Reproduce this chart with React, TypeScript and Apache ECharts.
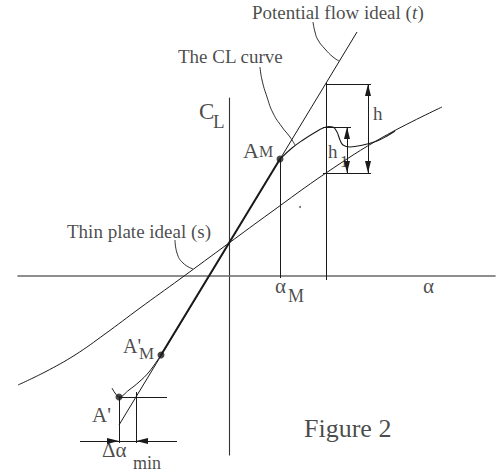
import React, { useEffect, useRef } from "react";
import * as echarts from "echarts";

const FONT = '"Liberation Serif", "Times New Roman", serif';
const INK = "#1a1a1a";

// Angle of attack (alpha, deg) vs lift coefficient (CL)
const potentialFlowLine = [[-5.5, -1.49], [6.4, 2.44]];
const thinPlateCurve = [
  [-10.55, -1.09], [-9.2, -0.96], [-7.7, -0.79], [-6.2, -0.58], [-4.45, -0.32],
  [-2.45, -0.03], [0, 0.33], [2.05, 0.63], [4.85, 1.03], [7.7, 1.39], [10.65, 1.69],
];
const clNegativeBranch = [
  [-5.85, -1.12], [-5.7, -1.17], [-5.5, -1.21], [-5.0, -1.14], [-4.5, -1.06],
  [-4.0, -0.96], [-3.4, -0.79],
];
const clLinearRange = [[-3.4, -0.79], [2.55, 1.17]];
const clStallBranch = [
  [2.55, 1.17], [3.15, 1.28], [3.7, 1.36], [4.25, 1.43], [4.7, 1.48], [5.0, 1.495],
  [5.2, 1.49], [5.4, 1.44], [5.55, 1.36], [5.7, 1.31], [6.05, 1.29], [6.7, 1.31],
  [7.4, 1.35], [7.9, 1.4], [8.3, 1.45],
];
const keyPoints = [[2.55, 1.17], [-3.4, -0.79], [-5.5, -1.21]];
const strayDot = [[3.55, 0.69]];

// Callout leaders
const potentialLeader = [[4.2, 2.54], [4.3, 2.44], [4.45, 2.36], [4.8, 2.27], [5.2, 2.19], [5.5, 2.15]];
const clLeader = [[1.55, 2.09], [1.65, 1.96], [1.9, 1.79], [2.2, 1.63], [2.65, 1.49], [3.05, 1.39], [3.3, 1.31]];
const thinPlateLeader = [[-2.7, 0.36], [-2.6, 0.23], [-2.3, 0.13], [-1.8, 0.07]];

// Guide and dimension segments
const guideSegments = [
  [[2.55, 1.17], [2.55, -0.02]],
  [[4.85, 1.93], [4.85, -0.04]],
  [[4.85, 1.92], [7.1, 1.92]],
  [[4.7, 1.03], [7.1, 1.03]],
  [[4.7, 1.49], [6.1, 1.49]],
  [[6.95, 1.92], [6.95, 1.03]],
  [[5.9, 1.49], [5.9, 1.03]],
  [[-5.5, -1.21], [-3.1, -1.21]],
  [[-5.5, -1.21], [-5.5, -1.67]],
  [[-4.65, -1.16], [-4.65, -1.67]],
  [[-7.45, -1.65], [-2.6, -1.65]],
];
// arrow tips: alpha, CL, direction (0 up, 1 down, 2 left, 3 right)
const arrowTips = [
  [6.95, 1.92, 0], [6.95, 1.03, 1],
  [5.9, 1.49, 0], [5.9, 1.03, 1],
  [-5.5, -1.65, 3], [-4.65, -1.65, 2],
];

// text, alpha, CL, font size, italic
const textLabels: [string, number, number, number, boolean?][] = [
  ["Potential flow ideal (", 1.15, 2.633, 19],
  ["t", 9.15, 2.633, 19, true],
  [")", 9.43, 2.633, 19],
  ["The CL curve", -2.55, 2.193, 19],
  ["Thin plate ideal (s)", -8.1, 0.443, 19],
  ["C", -1.5, 1.646, 23],
  ["L", -0.8, 1.543, 19],
  ["A", 0.7, 1.26, 22],
  ["M", 1.5, 1.243, 16],
  ["α", 2.3, -0.099, 21],
  ["M", 2.95, -0.199, 18],
  ["α", 9.7, -0.099, 21],
  ["A'", -5.3, -0.702, 20],
  ["M", -4.5, -0.772, 17],
  ["A'", -6.85, -1.389, 21],
  ["Δα", -6.35, -1.739, 21],
  ["min", -4.8, -1.869, 18],
  ["h", 7.2, 1.625, 19],
  ["h", 4.95, 1.245, 19],
  ["1", 5.55, 1.148, 17],
  ["Figure 2", 3.75, -1.522, 26],
];

const curve = (data: number[][], width = 1, smooth: number | boolean = 0.4) => ({
  type: "line",
  data,
  smooth,
  symbol: "none",
  clip: false,
  silent: true,
  lineStyle: { color: INK, width },
  z: 3,
});

export default function App() {
  const ref = useRef<HTMLDivElement>(null);

  useEffect(() => {
    const chart = echarts.init(ref.current!, null, { renderer: "svg" });
    chart.setOption({
      animation: false,
      backgroundColor: "#ffffff",
      grid: { left: 18, right: 6, top: 98, bottom: 21 },
      xAxis: {
        type: "value",
        min: -10.55,
        max: 13.3,
        axisLine: { show: true, onZero: true, lineStyle: { color: "#6a6a6a", width: 1.6 } },
        axisTick: { show: false },
        axisLabel: { show: false },
        splitLine: { show: false },
      },
      yAxis: {
        type: "value",
        min: -1.79,
        max: 1.78,
        axisLine: { show: true, onZero: true, lineStyle: { color: "#333333", width: 1.1 } },
        axisTick: { show: false },
        axisLabel: { show: false },
        splitLine: { show: false },
      },
      series: [
        curve(potentialFlowLine, 1, false),
        curve(thinPlateCurve, 1, 0.4),
        curve(clNegativeBranch, 1, 0.4),
        curve(clLinearRange, 2, false),
        curve(clStallBranch, 1.1, 0.4),
        curve(potentialLeader, 0.9, 0.5),
        curve(clLeader, 0.9, 0.5),
        curve(thinPlateLeader, 0.9, 0.5),
        {
          type: "lines",
          coordinateSystem: "cartesian2d",
          clip: false,
          silent: true,
          data: guideSegments.map((coords) => ({ coords })),
          lineStyle: { color: INK, width: 1, opacity: 1 },
          z: 2,
        },
        {
          type: "custom",
          coordinateSystem: "cartesian2d",
          clip: false,
          silent: true,
          data: arrowTips,
          renderItem: (_params: any, api: any) => {
            const p = api.coord([api.value(0), api.value(1)]);
            const dir = api.value(2);
            const L = 12;
            const W = 3;
            const [x, y] = p;
            let pts: number[][];
            if (dir === 0) pts = [[x, y], [x - W, y + L], [x + W, y + L]];
            else if (dir === 1) pts = [[x, y], [x - W, y - L], [x + W, y - L]];
            else if (dir === 2) pts = [[x, y], [x + L, y - W], [x + L, y + W]];
            else pts = [[x, y], [x - L, y - W], [x - L, y + W]];
            return { type: "polygon", shape: { points: pts }, style: { fill: INK } };
          },
          z: 4,
        },
        {
          type: "scatter",
          data: keyPoints,
          symbol: "circle",
          symbolSize: 7,
          clip: false,
          silent: true,
          itemStyle: { color: INK },
          z: 5,
        },
        {
          type: "scatter",
          data: strayDot,
          symbol: "circle",
          symbolSize: 2,
          clip: false,
          silent: true,
          itemStyle: { color: "#444" },
          z: 5,
        },
        {
          type: "scatter",
          symbolSize: 0,
          clip: false,
          silent: true,
          data: textLabels.map(([text, a, c, size, italic]) => ({
            value: [a, c],
            label: {
              formatter: text,
              fontSize: size,
              fontStyle: italic ? "italic" : "normal",
            },
          })),
          label: {
            show: true,
            position: [0, 0],
            align: "left",
            verticalAlign: "middle",
            color: INK,
            fontFamily: FONT,
          },
          z: 6,
        },
      ],
    });
    return () => chart.dispose();
  }, []);

  return (
    <div
      ref={ref}
      style={{ position: "fixed", left: 0, top: 0, width: 501, height: 476, background: "#fff" }}
    />
  );
}
